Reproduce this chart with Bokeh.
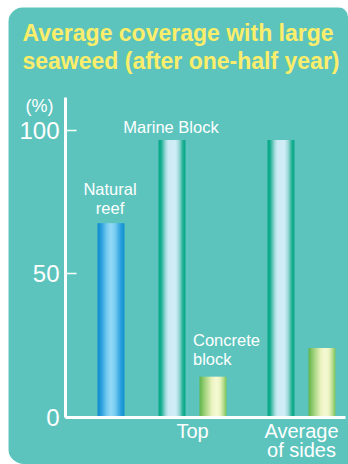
from bokeh.plotting import figure
from bokeh.models import Range1d, FixedTicker, LinearAxis, ColumnDataSource
from bokeh.core.properties import value
from bokeh.embed import file_html
from bokeh.resources import INLINE

# ---- data -----------------------------------------------------------------
title_lines = ["Average coverage with large", "seaweed (after one-half year)"]
bar_names = ["Natural reef", "Marine Block", "Concrete block", "Marine Block", "Concrete block"]
bar_groups = ["", "Top", "Top", "Average of sides", "Average of sides"]
coverage = [67.5, 96.5, 14, 96.5, 24]          # % of surface covered
bar_notes = ["Natural\nreef", "Marine Block", "Concrete\nblock", "", ""]
materials = ["reef", "marine", "concrete", "marine", "concrete"]
y_ticks = [0, 50, 100]
axis_top = 111.15
group_text = {"Top": "Top", "Average of sides": "Average\nof sides"}
unit_text = "(%)"
unit_level = 108.2          # height on the value scale where the unit sits

# ---- layout / style --------------------------------------------------------
TEAL = "#5cc4bd"
YELLOW = "#fcee6a"
WHITE = "#ffffff"
FONT = "Liberation Sans"

W, H = 340, 457
PX_PER_PCT = 2.87
X_LEFT, X_RIGHT = -57, W - 57                # one x unit per pixel, 0 at the value axis
Y_LOW = -(H - 409.5) / PX_PER_PCT             # frame fills the whole panel
Y_HIGH = 409.5 / PX_PER_PCT
slot_x = [45.5, 106.5, 147.5, 215.5, 256.5]   # bar centres
BAR_W = 27

# horizontal colour ramps giving each bar its rounded, tube-like shading
ramps = {
    "reef": [(0.0, "#0a86cc"), (0.15, "#2a9edf"), (0.35, "#79ccf4"),
             (0.5, "#95d9f8"), (0.65, "#7bcdf4"), (0.85, "#2b9fe0"), (1.0, "#0c8dd2")],
    "marine": [(0.0, "#00a585"), (0.1, "#12ad8d"), (0.25, "#98d7d6"), (0.36, "#d4eef8"),
               (0.64, "#d6eff9"), (0.78, "#98d6d5"), (0.9, "#1caf8f"), (1.0, "#00a585")],
    "concrete": [(0.0, "#5fb343"), (0.2, "#a4d279"), (0.45, "#f0f5bd"), (0.6, "#fffcd6"),
                 (0.75, "#f7f8c6"), (0.9, "#b6db88"), (1.0, "#78c055")],
}


def hex_rgb(h):
    h = h.lstrip("#")
    return [int(h[i:i + 2], 16) for i in (0, 2, 4)]


def ramp_color(stops, t):
    for (t0, c0), (t1, c1) in zip(stops, stops[1:]):
        if t <= t1:
            f = (t - t0) / (t1 - t0)
            a, b = hex_rgb(c0), hex_rgb(c1)
            return "#%02x%02x%02x" % tuple(round(a[k] + (b[k] - a[k]) * f) for k in range(3))
    return stops[-1][1]


p = figure(
    width=W, height=H,
    x_range=Range1d(X_LEFT, X_RIGHT), y_range=Range1d(Y_LOW, Y_HIGH),
    x_axis_location=None, y_axis_location=None,
    output_backend="svg", toolbar_location=None,
    min_border=0,
    background_fill_color=TEAL, border_fill_color=TEAL, outline_line_color=None,
    margin=(7, 0, 0, 8),
    styles={"border-radius": "16px 10px 0 16px", "overflow": "hidden"},
)
p.grid.visible = False

# ---- heading, hung from the top edge ----------------------------------------
p.text(x=[X_LEFT] * len(title_lines), y=[Y_HIGH] * len(title_lines), text=title_lines,
       x_offset=14, y_offset=[25 + 28.3 * k for k in range(len(title_lines))],
       text_align="left", text_baseline="middle",
       text_font=value(FONT), text_font_size="23px", text_font_style="bold",
       text_color=YELLOW)

# ---- bars, built from thin vertical strips ---------------------------------
strips = dict(left=[], right=[], top=[], color=[])
for cx, val, mat in zip(slot_x, coverage, materials):
    x0 = cx - BAR_W / 2
    for i in range(BAR_W):
        t = (i + 0.5) / BAR_W
        strips["left"].append(x0 + i)
        strips["right"].append(x0 + i + (1.4 if i < BAR_W - 1 else 1.0))
        strips["top"].append(val)
        strips["color"].append(ramp_color(ramps[mat], t))
p.quad(left="left", right="right", bottom=0, top="top", fill_color="color",
       line_color=None, source=ColumnDataSource(strips))

# ---- bar captions (vertical centre of each line above the bar top) ----------
cap = dict(x=[], y=[], text=[], yoff=[], xoff=[], align=[])
for cx, val, note, mat in zip(slot_x, coverage, bar_notes, materials):
    if not note:
        continue
    lines = note.split("\n")
    gap = {"reef": 15.5, "marine": 13.1, "concrete": 17.8}[mat]
    for k, line in enumerate(reversed(lines)):
        cap["x"].append(cx)
        cap["y"].append(val)
        cap["text"].append(line)
        cap["yoff"].append(-(gap + 19 * k))
        if mat == "concrete":
            cap["xoff"].append(-20)
            cap["align"].append("left")
        else:
            cap["xoff"].append(-1)
            cap["align"].append("center")
p.text(x="x", y="y", text="text", x_offset="xoff", y_offset="yoff",
       text_align="align", text_baseline="middle",
       text_font=value(FONT), text_font_size="16.5px", text_color=WHITE,
       source=ColumnDataSource(cap))

# unit of the value axis, just above its top end
p.text(x=[0], y=[unit_level], text=[unit_text], x_offset=-26,
       text_align="center", text_baseline="middle",
       text_font=value(FONT), text_font_size="18px", text_color=WHITE)

# ---- axes, pinned at the origin --------------------------------------------
ya = LinearAxis(fixed_location=0, bounds=(0, axis_top), ticker=FixedTicker(ticks=y_ticks))
ya.axis_line_color = WHITE
ya.axis_line_width = 3
ya.major_tick_in = 11
ya.major_tick_out = 0
ya.major_tick_line_color = WHITE
ya.major_tick_line_width = 1.5
ya.minor_tick_line_color = None
ya.major_label_text_font = FONT
ya.major_label_text_font_size = "24px"
ya.major_label_text_color = WHITE
ya.major_label_standoff = 6
p.add_layout(ya, "left")

group_names = [g for g in dict.fromkeys(bar_groups) if g]
group_pos = []
for g in group_names:
    xs = [x for x, gg in zip(slot_x, bar_groups) if gg == g]
    group_pos.append(sum(xs) / len(xs))

xa = LinearAxis(fixed_location=0, bounds=(0, 280), ticker=FixedTicker(ticks=group_pos))
xa.major_label_overrides = {pos: group_text[g] for pos, g in zip(group_pos, group_names)}
xa.axis_line_color = WHITE
xa.axis_line_width = 3
xa.major_tick_in = 0
xa.major_tick_out = 0
xa.minor_tick_line_color = None
xa.major_label_text_font = FONT
xa.major_label_text_font_size = "20px"
xa.major_label_text_color = WHITE
xa.major_label_text_line_height = 0.85
xa.major_label_standoff = 3
p.add_layout(xa, "below")

open("out.html", "w").write(file_html(p, INLINE))
